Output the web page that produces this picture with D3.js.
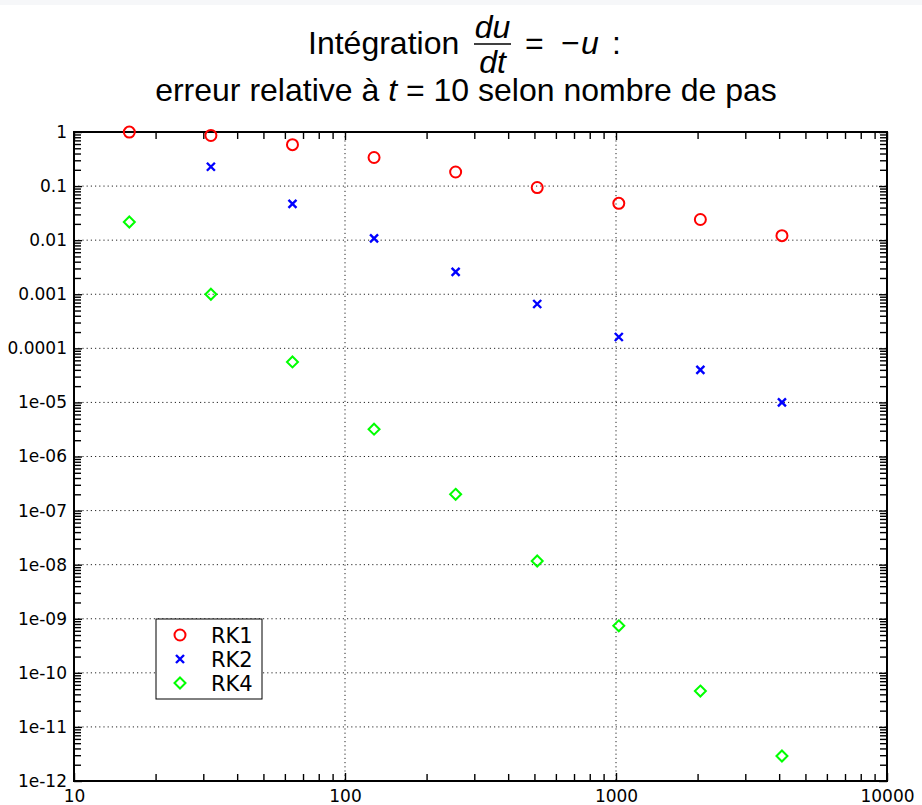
<!DOCTYPE html>
<html>
<head>
<meta charset="utf-8">
<script src="https://cdn.jsdelivr.net/npm/d3@7"></script>
<style>
  body { margin: 0; background: #fff; }
  svg { display: block; }
</style>
</head>
<body>
<div id="chart"></div>
<script>
// number of steps (x) and relative error at t = 10 for each scheme
const steps = [16, 32, 64, 128, 256, 512, 1024, 2048, 4096];
const rk1 = [0.997, 0.863, 0.583, 0.338, 0.182, 0.094, 0.048, 0.0241, 0.0121];
const rk2 = [null, 0.228, 0.0467, 0.0108, 0.0026, 6.6e-4, 1.62e-4, 4.0e-5, 1.0e-5];
const rk4 = [0.0217, 1.0e-3, 5.6e-5, 3.2e-6, 2.0e-7, 1.17e-8, 7.4e-10, 4.6e-11, 2.9e-12];

const xTicks = [10, 100, 1000, 10000];
const xTickLabels = ['10', '100', '1000', '10000'];
const yTicks = [1e-12, 1e-11, 1e-10, 1e-9, 1e-8, 1e-7, 1e-6, 1e-5, 1e-4, 1e-3, 1e-2, 1e-1, 1];
const yTickLabels = ['1e-12', '1e-11', '1e-10', '1e-09', '1e-08', '1e-07', '1e-06', '1e-05',
                     '0.0001', '0.001', '0.01', '0.1', '1'];
const seriesNames = ['RK1', 'RK2', 'RK4'];

const W = 922, H = 805;
const margin = {top: 132, right: 35, bottom: 24, left: 74};
const x0 = margin.left, x1 = W - margin.right, y0 = H - margin.bottom, y1 = margin.top;

const svg = d3.select('#chart').append('svg')
  .attr('width', W).attr('height', H)
  .style('font-family', '"DejaVu Sans", sans-serif');

svg.append('rect').attr('x', 0).attr('y', 0).attr('width', W).attr('height', 5).attr('fill', '#f6f7f9');

const x = d3.scaleLog().domain([10, 10000]).range([x0, x1]);
const y = d3.scaleLog().domain([1e-12, 1]).range([y0, y1]);

// minor tick positions 2..9 per decade
const minorX = [], minorY = [];
for (let e = 1; e < 4; e++) for (let m = 2; m <= 9; m++) minorX.push(m * Math.pow(10, e));
for (let e = -12; e < 0; e++) for (let m = 2; m <= 9; m++) minorY.push(m * Math.pow(10, e));

// grid
const grid = svg.append('g').attr('stroke', '#000').attr('stroke-width', 1)
  .attr('stroke-dasharray', '1.2,3').attr('opacity', 0.85);
grid.selectAll('.gx').data(xTicks.slice(1, -1)).enter().append('line')
  .attr('x1', d => x(d)).attr('x2', d => x(d)).attr('y1', y1).attr('y2', y0);
grid.selectAll('.gy').data(yTicks.slice(1, -1)).enter().append('line')
  .attr('x1', x0).attr('x2', x1).attr('y1', d => y(d)).attr('y2', d => y(d));

// axes, ticks pointing inward on all four sides
function styleAxis(g) {
  g.select('.domain').remove();
  g.selectAll('line').attr('stroke', '#000').attr('stroke-width', 1.4);
  g.selectAll('text').attr('fill', '#000').style('font-size', '17px')
    .style('font-family', '"DejaVu Sans", sans-serif');
}
const majorLen = 8, minorLen = 7;

svg.append('g').attr('transform', `translate(0,${y0})`)
  .call(d3.axisBottom(x).tickValues(minorX).tickSize(-minorLen).tickFormat('')).call(styleAxis);
svg.append('g').attr('transform', `translate(0,${y0})`)
  .call(d3.axisBottom(x).tickValues(xTicks).tickSize(-majorLen).tickPadding(9)
    .tickFormat((d, i) => xTickLabels[i])).call(styleAxis);
svg.append('g').attr('transform', `translate(0,${y1})`)
  .call(d3.axisTop(x).tickValues(minorX).tickSize(-minorLen).tickFormat('')).call(styleAxis);
svg.append('g').attr('transform', `translate(0,${y1})`)
  .call(d3.axisTop(x).tickValues(xTicks).tickSize(-majorLen).tickFormat('')).call(styleAxis);

svg.append('g').attr('transform', `translate(${x0},0)`)
  .call(d3.axisLeft(y).tickValues(minorY).tickSize(-minorLen).tickFormat('')).call(styleAxis);
svg.append('g').attr('transform', `translate(${x0},0)`)
  .call(d3.axisLeft(y).tickValues(yTicks).tickSize(-majorLen).tickPadding(7)
    .tickFormat((d, i) => yTickLabels[i])).call(styleAxis);
svg.append('g').attr('transform', `translate(${x1},0)`)
  .call(d3.axisRight(y).tickValues(minorY).tickSize(-minorLen).tickFormat('')).call(styleAxis);
svg.append('g').attr('transform', `translate(${x1},0)`)
  .call(d3.axisRight(y).tickValues(yTicks).tickSize(-majorLen).tickFormat('')).call(styleAxis);

// frame
svg.append('rect').attr('x', x0).attr('y', y1).attr('width', x1 - x0).attr('height', y0 - y1)
  .attr('fill', 'none').attr('stroke', '#000').attr('stroke-width', 2);

// markers
const circle = (g, cx, cy) => g.append('circle').attr('cx', cx).attr('cy', cy).attr('r', 5.5)
  .attr('fill', 'none').attr('stroke', '#ff0000').attr('stroke-width', 2);
const cross = (g, cx, cy) => g.append('path')
  .attr('d', `M${cx - 4},${cy - 4}L${cx + 4},${cy + 4}M${cx - 4},${cy + 4}L${cx + 4},${cy - 4}`)
  .attr('stroke', '#0000ff').attr('stroke-width', 2.4).attr('fill', 'none');
const diamond = (g, cx, cy) => g.append('path')
  .attr('d', `M${cx},${cy - 5.5}L${cx + 5.5},${cy}L${cx},${cy + 5.5}L${cx - 5.5},${cy}Z`)
  .attr('stroke', '#00ff00').attr('stroke-width', 2).attr('fill', 'none');
const drawers = [circle, cross, diamond];

const marks = svg.append('g');
[rk1, rk2, rk4].forEach((vals, s) => {
  steps.forEach((n, i) => {
    if (vals[i] == null) return;
    drawers[s](marks, x(n), y(vals[i]));
  });
});

// legend
const lg = svg.append('g');
lg.append('rect').attr('x', 156).attr('y', 619).attr('width', 106).attr('height', 80)
  .attr('fill', '#fff').attr('stroke', '#000').attr('stroke-width', 1);
seriesNames.forEach((name, i) => {
  const cy = 635 + i * 24;
  drawers[i](lg, 180, cy);
  lg.append('text').attr('x', 211).attr('y', cy + 7.5).text(name)
    .style('font-size', '21px').attr('fill', '#000');
});

// title
const tf = '"Liberation Sans", Arial, sans-serif';
const title = svg.append('g').style('font-family', tf).style('font-size', '32px').attr('fill', '#000');
title.append('text').attr('x', 308).attr('y', 54).text('Intégration');
title.append('text').attr('x', 492.5).attr('y', 38).attr('text-anchor', 'middle')
  .style('font-style', 'italic').text('du');
title.append('line').attr('x1', 474).attr('x2', 511).attr('y1', 44).attr('y2', 44)
  .attr('stroke', '#000').attr('stroke-width', 1.6);
title.append('text').attr('x', 492.5).attr('y', 73).attr('text-anchor', 'middle')
  .style('font-style', 'italic').text('dt');
title.append('text').attr('x', 525).attr('y', 54).text('=');
title.append('text').attr('x', 561).attr('y', 54).text('\u2212');
title.append('text').attr('x', 581).attr('y', 54).style('font-style', 'italic').text('u');
title.append('text').attr('x', 612).attr('y', 54).text(':');

const line2 = title.append('text').attr('x', 466).attr('y', 101).attr('text-anchor', 'middle');
line2.append('tspan').text('erreur relative à ');
line2.append('tspan').style('font-style', 'italic').text('t');
line2.append('tspan').text(' = 10 selon nombre de pas');
</script>
</body>
</html>
